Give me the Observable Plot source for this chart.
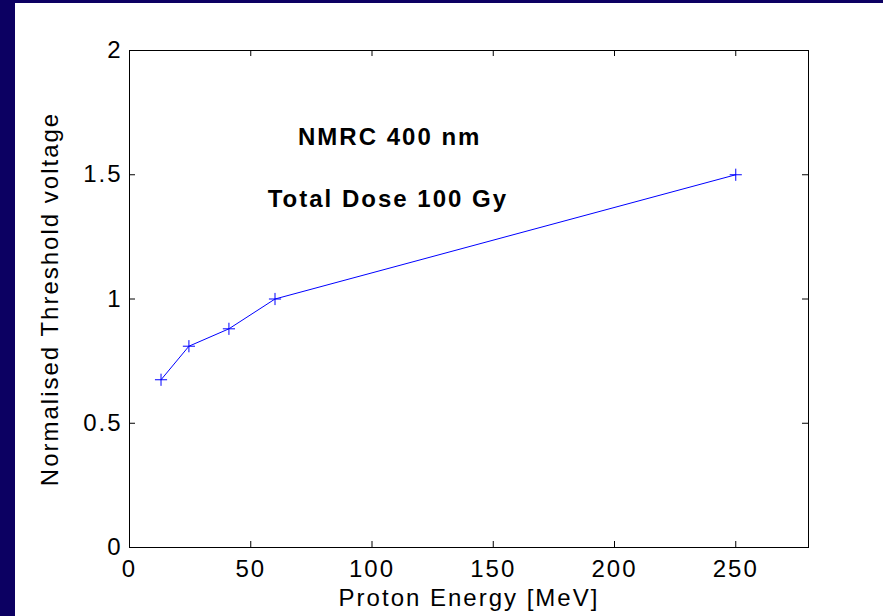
<!DOCTYPE html>
<html>
<head>
<meta charset="utf-8">
<script src="https://cdn.jsdelivr.net/npm/d3@7"></script>
<script src="https://cdn.jsdelivr.net/npm/@observablehq/plot@0.6"></script>
<style>
  html, body { margin: 0; padding: 0; background: #0c0062; width: 883px; height: 616px; overflow: hidden; }
  #chart { position: absolute; left: 15px; top: 3px; width: 868px; height: 613px; background: #ffffff; }
  #chart svg text { letter-spacing: 2px; }
</style>
</head>
<body>
<div id="chart"></div>
<script>
// Data
const energy = [13, 24.5, 41, 60, 250];          // Proton Energy [MeV]
const threshold = [0.675, 0.81, 0.88, 1.0, 1.5];  // Normalised Threshold voltage
const xTicks = [0, 50, 100, 150, 200, 250];
const yTicks = [0, 0.5, 1, 1.5, 2];
const notes = [
  {x: 69.5, y: 1.65, text: "NMRC 400 nm"},
  {x: 57, y: 1.40, text: "Total Dose 100 Gy"}
];
const xLabel = "Proton Energy [MeV]";
const yLabel = "Normalised Threshold voltage";

const points = energy.map((e, i) => ({energy: e, threshold: threshold[i]}));

const W = 868, H = 613;
const mL = 114, mT = 47, mR = 75, mB = 69;
const plotW = W - mL - mR, plotH = H - mT - mB;

const chart = Plot.plot({
  width: W,
  height: H,
  marginLeft: mL,
  marginTop: mT,
  marginRight: mR,
  marginBottom: mB,
  style: {fontFamily: "'Liberation Sans', Arial, sans-serif", fontSize: "24px", color: "black", background: "white"},
  x: {domain: [0, 280]},
  y: {domain: [0, 2]},
  marks: [
    Plot.frame({stroke: "black", strokeWidth: 1}),
    // inward ticks on all four sides
    Plot.tickX(xTicks, {x: d => d, insetTop: plotH - 6, stroke: "black"}),
    Plot.tickX(xTicks, {x: d => d, insetBottom: plotH - 6, stroke: "black"}),
    Plot.tickY(yTicks, {y: d => d, insetRight: plotW - 6, stroke: "black"}),
    Plot.tickY(yTicks, {y: d => d, insetLeft: plotW - 6, stroke: "black"}),
    Plot.axisX({ticks: xTicks, anchor: "bottom", tickSize: 0, tickPadding: 12, label: null, tickFormat: d => String(d)}),
    Plot.axisY({ticks: yTicks, anchor: "left", tickSize: 0, tickPadding: 7, label: null, tickFormat: d => String(d)}),
    Plot.text([xLabel], {text: d => d, frameAnchor: "bottom", dy: 51, textAnchor: "middle", lineAnchor: "middle", fill: "black"}),
    Plot.text([yLabel], {text: d => d, frameAnchor: "left", dx: -79, rotate: -90, textAnchor: "middle", lineAnchor: "middle", fill: "black"}),
    Plot.line(points, {x: "energy", y: "threshold", stroke: "#0000ff", strokeWidth: 1}),
    Plot.dot(points, {x: "energy", y: "threshold", symbol: "plus", r: 4, stroke: "#0000ff", strokeWidth: 1}),
    Plot.text(notes, {x: "x", y: "y", text: "text", textAnchor: "start", lineAnchor: "middle", fontWeight: "bold", fill: "black"})
  ]
});
document.getElementById("chart").appendChild(chart);
</script>
</body>
</html>
